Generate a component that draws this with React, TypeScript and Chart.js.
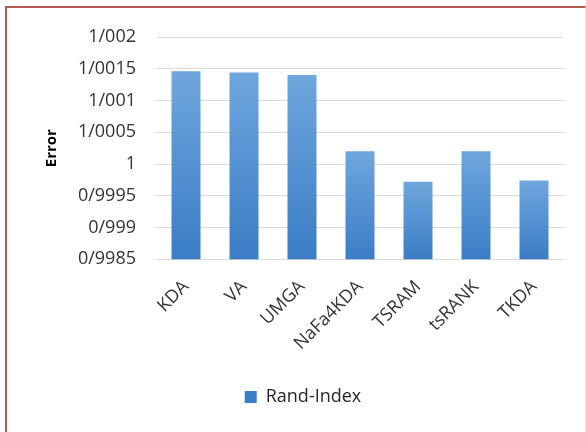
import React, { useEffect, useRef } from "react";
import { Chart, registerables } from "chart.js";

Chart.register(...registerables);

// Clustering methods compared on the x axis
const methods = ["KDA", "VA", "UMGA", "NaFa4KDA", "TSRAM", "tsRANK", "TKDA"];
// Rand-Index error per method
const randIndex = [1.00146, 1.00144, 1.0014, 1.0002, 0.99972, 1.0002, 0.99974];
// Value axis ticks (slash used as decimal separator)
const yTickValues = [0.9985, 0.999, 0.9995, 1, 1.0005, 1.001, 1.0015, 1.002];
const yTickLabels = ["0/9985", "0/999", "0/9995", "1", "1/0005", "1/001", "1/0015", "1/002"];
const seriesName = "Rand-Index";
const axisTitle = "Error";

const FONT = "'Open Sans', sans-serif";

export default function App() {
  const canvasRef = useRef<HTMLCanvasElement | null>(null);

  useEffect(() => {
    const canvas = canvasRef.current;
    if (!canvas) return;

    const chart = new Chart(canvas, {
      type: "bar",
      data: {
        labels: methods,
        datasets: [
          {
            label: seriesName,
            data: randIndex,
            backgroundColor: (ctx: any) => {
              const c = ctx.chart;
              const area = c.chartArea;
              if (ctx.type !== "data" || !area) return "#5b9bd5";
              const top = c.scales.y.getPixelForValue(ctx.raw);
              const g = c.ctx.createLinearGradient(0, top, 0, area.bottom);
              g.addColorStop(0, "#6fa6dd");
              g.addColorStop(1, "#3a7dc6");
              return g;
            },
            borderWidth: 0,
            barPercentage: 0.5,
            categoryPercentage: 1,
          },
        ],
      },
      options: {
        responsive: false,
        animation: false,
        layout: { padding: { left: 43, right: 23, top: 37, bottom: 16 } },
        plugins: {
          legend: {
            position: "bottom",
            labels: {
              boxWidth: 12,
              boxHeight: 12,
              padding: 10,
              color: "#262626",
              font: { family: FONT, size: 18 },
            },
          },
          tooltip: { enabled: false },
        },
        scales: {
          x: {
            grid: { display: false, drawTicks: false },
            border: { display: false },
            ticks: {
              minRotation: 45,
              maxRotation: 45,
              autoSkip: false,
              padding: 17,
              color: "#333333",
              font: { family: FONT, size: 18 },
            },
            afterFit: (s: any) => {
              s.height = 118.7;
            },
          },
          y: {
            min: 0.9985,
            max: 1.002,
            afterBuildTicks: (s: any) => {
              s.ticks = yTickValues.map((v) => ({ value: v }));
            },
            ticks: {
              padding: 21,
              color: "#333333",
              font: { family: FONT, size: 18 },
              callback: (v: any) => {
                let best = 0;
                yTickValues.forEach((t, i) => {
                  if (Math.abs(t - v) < Math.abs(yTickValues[best] - v)) best = i;
                });
                return yTickLabels[best];
              },
            },
            grid: { color: "#d9d9d9", drawTicks: false, lineWidth: 1 },
            border: { display: false },
            title: {
              display: true,
              text: axisTitle,
              color: "#000000",
              font: { family: FONT, size: 15, weight: "bold" },
              padding: { top: 0, bottom: 0 },
            },
            afterFit: (s: any) => {
              s.width = 114;
            },
          },
        },
      },
    } as any);

    return () => chart.destroy();
  }, []);

  return (
    <div
      style={{
        position: "fixed",
        left: 0,
        top: 0,
        width: 586,
        height: 432,
        overflow: "hidden",
        background: "#ffffff",
      }}
    >
      <div
        style={{
          position: "absolute",
          left: 5,
          top: 6,
          width: 578,
          height: 460,
          borderLeft: "2px solid #b65a4e",
          borderTop: "2px solid #b65a4e",
          borderRight: "1px solid #ece4e4",
        }}
      />
      <canvas
        ref={canvasRef}
        width={586}
        height={432}
        style={{ position: "absolute", left: 0, top: 0 }}
      />
    </div>
  );
}
